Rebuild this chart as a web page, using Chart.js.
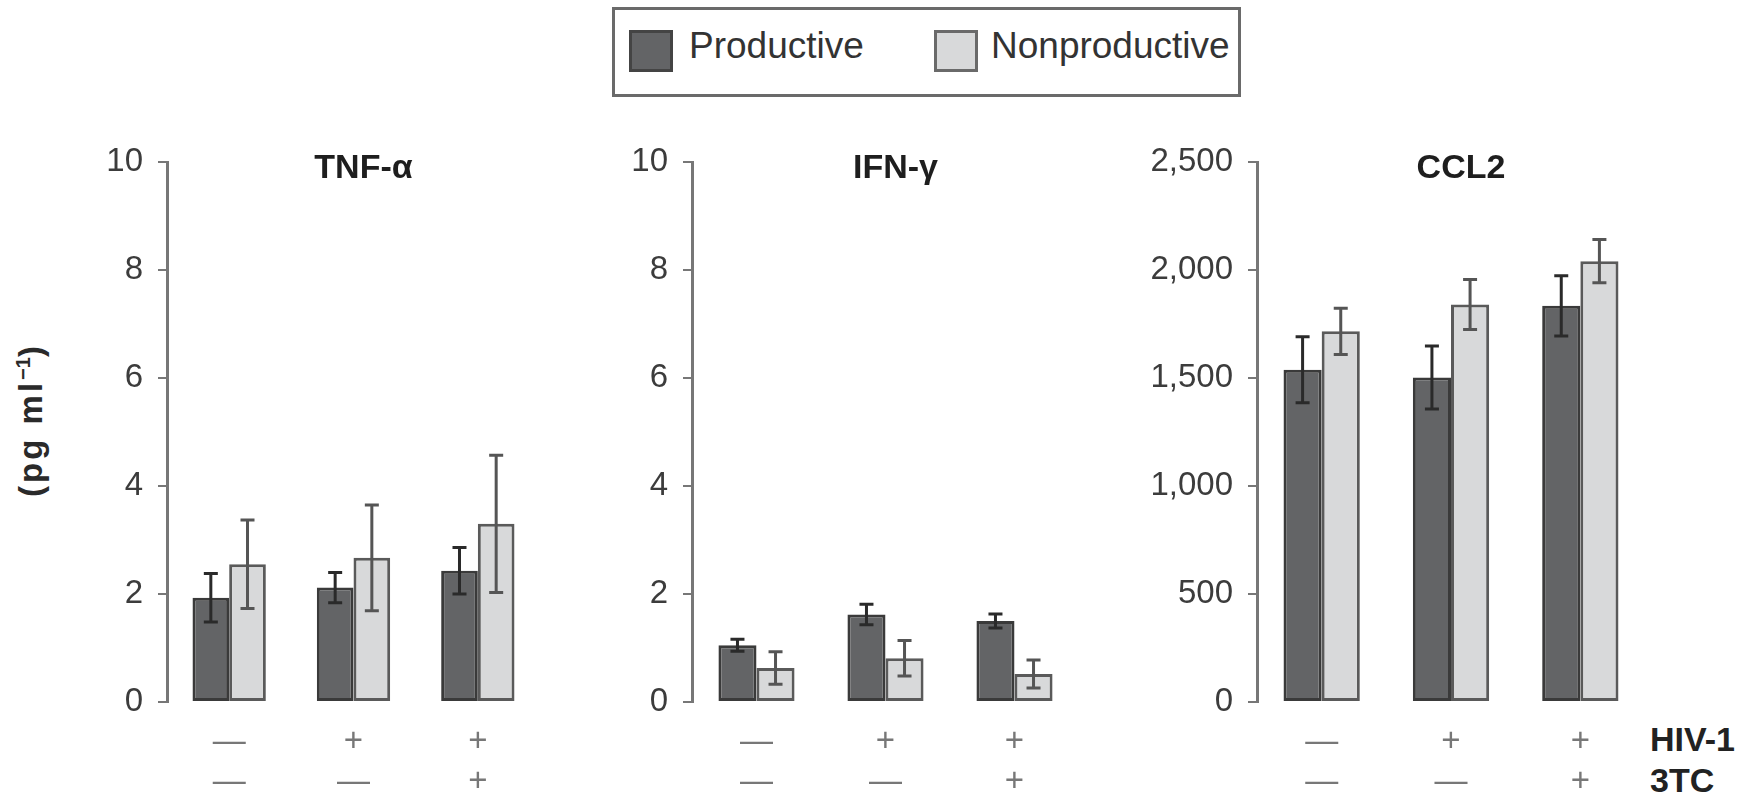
<!DOCTYPE html>
<html>
<head>
<meta charset="utf-8">
<script src="https://cdn.jsdelivr.net/npm/chart.js@4"></script>
<style>
  body { margin: 0; background: #fff; font-family: 'Liberation Sans', Arial, sans-serif; }
  #wrap { position: relative; width: 1752px; height: 797px; overflow: hidden; }
  canvas { position: absolute; top: 100px; }
  #legend { position: absolute; left: 612px; top: 7px; width: 623px; height: 84px; border: 3px solid #6a6a6a; }
  .sw { position: absolute; top: 20px; width: 38px; height: 36px; border: 3px solid #444; }
  .lt { position: absolute; top: 15px; font-size: 37px; color: #333; }
  #ytitle { position: absolute; left: 31px; top: 420px; transform: translate(-50%, -50%) rotate(-90deg); font-size: 33px; letter-spacing: 3px; font-weight: bold; color: #2a2a2a; white-space: nowrap; }
  #ytitle sup { font-size: 20px; letter-spacing: 0; }
  .rowlab { position: absolute; left: 1650px; font-size: 34px; font-weight: bold; color: #222; }
</style>
</head>
<body>
<div id="wrap">
  <div id="legend">
    <div class="sw" style="left:14px;background:#636466;"></div>
    <div class="lt" style="left:74px;">Productive</div>
    <div class="sw" style="left:319px;background:#d8d9da;border-color:#6a6a6a;"></div>
    <div class="lt" style="left:376px;">Nonproductive</div>
  </div>
  <div id="ytitle">(pg ml<sup>−1</sup>)</div>
  <canvas id="tnfChart" width="480" height="697" style="left:60px;"></canvas>
  <canvas id="ifnChart" width="494" height="697" style="left:585px;"></canvas>
  <canvas id="ccl2Chart" width="508" height="697" style="left:1137px;"></canvas>
  <div class="rowlab" style="top:720px;">HIV-1</div>
  <div class="rowlab" style="top:761px;">3TC</div>
</div>
<script>
// conditions: HIV-1 row / 3TC row
const conditions = [['—', '—'], ['+', '—'], ['+', '+']];

// TNF-alpha (pg/ml)
const tnfProductive = [1.93, 2.12, 2.43];
const tnfProductiveErr = [0.45, 0.28, 0.43];
const tnfNonproductive = [2.55, 2.67, 3.30];
const tnfNonproductiveErr = [0.82, 0.98, 1.27];

// IFN-gamma (pg/ml)
const ifnProductive = [1.05, 1.62, 1.50];
const ifnProductiveErr = [0.11, 0.19, 0.13];
const ifnNonproductive = [0.63, 0.81, 0.52];
const ifnNonproductiveErr = [0.30, 0.33, 0.26];

// CCL2 (pg/ml)
const cclProductive = [1538, 1502, 1834];
const cclProductiveErr = [153, 146, 139];
const cclNonproductive = [1716, 1840, 2041];
const cclNonproductiveErr = [107, 116, 100];

Chart.defaults.font.family = "'Liberation Sans', Arial, sans-serif";

// =======================
// Plugins
// =======================
const errorBars = {
  id: 'errorBars',
  afterDatasetsDraw(chart) {
    const ctx = chart.ctx;
    const yScale = chart.scales.y;
    chart.data.datasets.forEach((ds, i) => {
      const meta = chart.getDatasetMeta(i);
      ctx.save();
      ctx.strokeStyle = ds.errColor;
      ctx.lineWidth = 3;
      meta.data.forEach((bar, j) => {
        const hi = yScale.getPixelForValue(ds.data[j] + ds.errors[j]);
        const lo = yScale.getPixelForValue(ds.data[j] - ds.errors[j]);
        ctx.beginPath();
        ctx.moveTo(bar.x, hi); ctx.lineTo(bar.x, lo);
        ctx.moveTo(bar.x - 7, hi); ctx.lineTo(bar.x + 7, hi);
        ctx.moveTo(bar.x - 7, lo); ctx.lineTo(bar.x + 7, lo);
        ctx.stroke();
      });
      ctx.restore();
    });
  }
};

const panelTitle = {
  id: 'panelTitle',
  afterDraw(chart, args, opts) {
    const ctx = chart.ctx;
    const area = chart.chartArea;
    ctx.save();
    ctx.font = "bold 34px 'Liberation Sans', Arial, sans-serif";
    ctx.fillStyle = '#1e1e1e';
    ctx.textAlign = 'center';
    ctx.textBaseline = 'middle';
    ctx.fillText(opts.text, (area.left + area.right) / 2 + 10, area.top + 7);
    ctx.restore();
  }
};

// =======================
// Charts Create
// =======================
function createPanel(id, title, prod, prodErr, nonprod, nonprodErr, max, step, yWidth) {
  const ctx = document.getElementById(id).getContext('2d');
  return new Chart(ctx, {
    type: 'bar',
    data: {
      labels: conditions,
      datasets: [
        { label: 'Productive', data: prod, errors: prodErr, errColor: '#2a2a2a',
          backgroundColor: '#636466', borderColor: '#3a3a3a', borderWidth: 3, borderSkipped: false,
          categoryPercentage: 0.59, barPercentage: 1.0 },
        { label: 'Nonproductive', data: nonprod, errors: nonprodErr, errColor: '#555555',
          backgroundColor: '#d8d9da', borderColor: '#5a5a5a', borderWidth: 3, borderSkipped: false,
          categoryPercentage: 0.59, barPercentage: 1.0 }
      ]
    },
    options: {
      responsive: false,
      animation: false,
      layout: { padding: { top: 62, left: 0, right: 0, bottom: 0 } },
      plugins: { legend: { display: false }, tooltip: { enabled: false }, panelTitle: { text: title } },
      scales: {
        x: {
          grid: { display: false, drawTicks: false },
          border: { display: false },
          ticks: { color: '#777', font: { size: 33, lineHeight: 1.22 }, padding: 20, maxRotation: 0, autoSkip: false },
          afterFit: s => { s.height = 95; }
        },
        y: {
          min: 0, max: max,
          grid: { display: true, drawOnChartArea: false, drawTicks: true, tickLength: 9, color: '#777', lineWidth: 2 },
          border: { display: true, color: '#777', width: 3 },
          ticks: {
            stepSize: step, color: '#3c3c3c', padding: 15, font: { size: 33 },
            callback: v => v.toLocaleString('en-US')
          },
          afterFit: s => { s.width = yWidth; }
        }
      }
    },
    plugins: [errorBars, panelTitle]
  });
}

document.addEventListener('DOMContentLoaded', () => {
  createPanel('tnfChart', 'TNF-α', tnfProductive, tnfProductiveErr, tnfNonproductive, tnfNonproductiveErr, 10, 2, 107);
  createPanel('ifnChart', 'IFN-γ', ifnProductive, ifnProductiveErr, ifnNonproductive, ifnNonproductiveErr, 10, 2, 107);
  createPanel('ccl2Chart', 'CCL2', cclProductive, cclProductiveErr, cclNonproductive, cclNonproductiveErr, 2500, 500, 120);
});
</script>
</body>
</html>
